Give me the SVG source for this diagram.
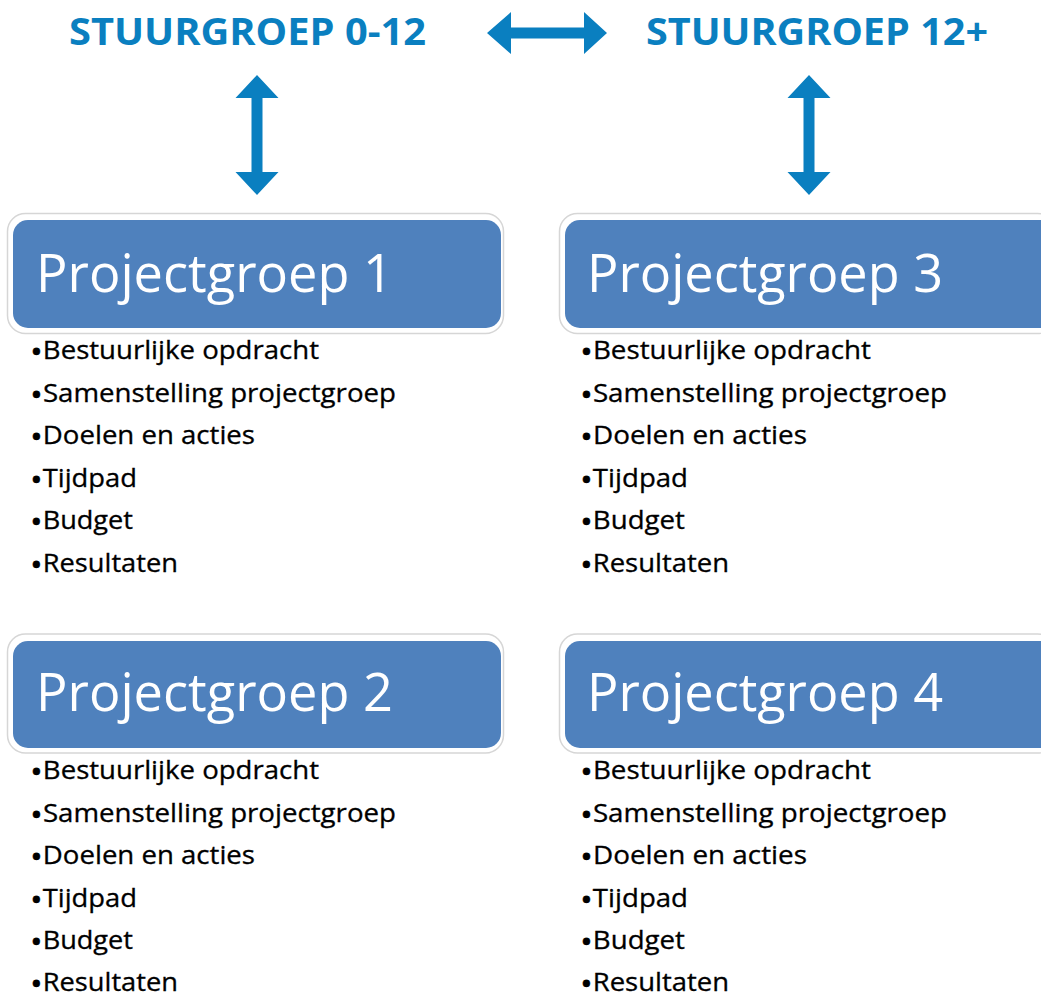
<svg xmlns="http://www.w3.org/2000/svg" width="1041" height="994" viewBox="0 0 1041 994">
<style>
.title{font-family:"Open Sans","Liberation Sans",sans-serif;font-weight:700;font-size:38px;fill:#0a7fc0}
.arrow{fill:#0a7fc0}
.outer{fill:#ffffff;stroke:#d6d6d6;stroke-width:1.5}
.inner{fill:#4f81bd}
.ptitle{font-family:"Open Sans","Liberation Sans",sans-serif;font-size:53px;fill:#ffffff}
.item{font-family:"Open Sans","Liberation Sans",sans-serif;font-size:25px;fill:#000000;stroke:#000000;stroke-width:0.3}
.b{font-size:31px}
</style>
<rect width="1041" height="994" fill="#ffffff"/>
<g id="stuurgroep-0-12">
<text class="title" x="69" y="45" textLength="357" lengthAdjust="spacingAndGlyphs">STUURGROEP 0-12</text>
</g>
<g id="stuurgroep-12plus">
<text class="title" x="646" y="45" textLength="342" lengthAdjust="spacingAndGlyphs">STUURGROEP 12+</text>
</g>
<g id="connectors">
<polygon class="arrow" points="487,33 511,12 511,27.5 584,27.5 584,12 607,33 584,54 584,38.5 511,38.5 511,54"/>
<polygon class="arrow" points="257,75 278.5,98 262.5,98 262.5,172 278.5,172 257,195 235.5,172 251.5,172 251.5,98 235.5,98"/>
<polygon class="arrow" points="809,75 830.5,98 814.5,98 814.5,172 830.5,172 809,195 787.5,172 803.5,172 803.5,98 787.5,98"/>
</g>
<g id="projectgroep-1">
<rect class="outer" x="7.5" y="213.5" width="496" height="120" rx="18"/>
<rect class="inner" x="13" y="220" width="488" height="108" rx="15"/>
<text class="ptitle" x="36" y="292" textLength="357" lengthAdjust="spacingAndGlyphs">Projectgroep 1</text>
<text class="item" x="30" y="359" textLength="289" lengthAdjust="spacingAndGlyphs"><tspan class="b" dy="4">•</tspan><tspan dy="-4">Bestuurlijke opdracht</tspan></text>
<text class="item" x="30" y="401.6" textLength="366" lengthAdjust="spacingAndGlyphs"><tspan class="b" dy="4">•</tspan><tspan dy="-4">Samenstelling projectgroep</tspan></text>
<text class="item" x="30" y="444.2" textLength="225" lengthAdjust="spacingAndGlyphs"><tspan class="b" dy="4">•</tspan><tspan dy="-4">Doelen en acties</tspan></text>
<text class="item" x="30" y="486.8" textLength="107" lengthAdjust="spacingAndGlyphs"><tspan class="b" dy="4">•</tspan><tspan dy="-4">Tijdpad</tspan></text>
<text class="item" x="30" y="529.4" textLength="103" lengthAdjust="spacingAndGlyphs"><tspan class="b" dy="4">•</tspan><tspan dy="-4">Budget</tspan></text>
<text class="item" x="30" y="572" textLength="148" lengthAdjust="spacingAndGlyphs"><tspan class="b" dy="4">•</tspan><tspan dy="-4">Resultaten</tspan></text>
</g>
<g id="projectgroep-2">
<rect class="outer" x="7.5" y="634" width="496" height="119" rx="18"/>
<rect class="inner" x="13" y="641" width="488" height="107" rx="15"/>
<text class="ptitle" x="36" y="711" textLength="357" lengthAdjust="spacingAndGlyphs">Projectgroep 2</text>
<text class="item" x="30" y="779" textLength="289" lengthAdjust="spacingAndGlyphs"><tspan class="b" dy="4">•</tspan><tspan dy="-4">Bestuurlijke opdracht</tspan></text>
<text class="item" x="30" y="821.6" textLength="366" lengthAdjust="spacingAndGlyphs"><tspan class="b" dy="4">•</tspan><tspan dy="-4">Samenstelling projectgroep</tspan></text>
<text class="item" x="30" y="864.2" textLength="225" lengthAdjust="spacingAndGlyphs"><tspan class="b" dy="4">•</tspan><tspan dy="-4">Doelen en acties</tspan></text>
<text class="item" x="30" y="906.8" textLength="107" lengthAdjust="spacingAndGlyphs"><tspan class="b" dy="4">•</tspan><tspan dy="-4">Tijdpad</tspan></text>
<text class="item" x="30" y="949.4" textLength="103" lengthAdjust="spacingAndGlyphs"><tspan class="b" dy="4">•</tspan><tspan dy="-4">Budget</tspan></text>
<text class="item" x="30" y="991" textLength="148" lengthAdjust="spacingAndGlyphs"><tspan class="b" dy="4">•</tspan><tspan dy="-4">Resultaten</tspan></text>
</g>
<g id="projectgroep-3">
<rect class="outer" x="559.5" y="213.5" width="496" height="120" rx="18"/>
<rect class="inner" x="565" y="220" width="500" height="108" rx="15"/>
<text class="ptitle" x="587" y="292" textLength="356" lengthAdjust="spacingAndGlyphs">Projectgroep 3</text>
<text class="item" x="580" y="359" textLength="291" lengthAdjust="spacingAndGlyphs"><tspan class="b" dy="4">•</tspan><tspan dy="-4">Bestuurlijke opdracht</tspan></text>
<text class="item" x="580" y="401.6" textLength="367" lengthAdjust="spacingAndGlyphs"><tspan class="b" dy="4">•</tspan><tspan dy="-4">Samenstelling projectgroep</tspan></text>
<text class="item" x="580" y="444.2" textLength="227" lengthAdjust="spacingAndGlyphs"><tspan class="b" dy="4">•</tspan><tspan dy="-4">Doelen en acties</tspan></text>
<text class="item" x="580" y="486.8" textLength="108" lengthAdjust="spacingAndGlyphs"><tspan class="b" dy="4">•</tspan><tspan dy="-4">Tijdpad</tspan></text>
<text class="item" x="580" y="529.4" textLength="105" lengthAdjust="spacingAndGlyphs"><tspan class="b" dy="4">•</tspan><tspan dy="-4">Budget</tspan></text>
<text class="item" x="580" y="572" textLength="149" lengthAdjust="spacingAndGlyphs"><tspan class="b" dy="4">•</tspan><tspan dy="-4">Resultaten</tspan></text>
</g>
<g id="projectgroep-4">
<rect class="outer" x="559.5" y="634" width="496" height="119" rx="18"/>
<rect class="inner" x="565" y="641" width="500" height="107" rx="15"/>
<text class="ptitle" x="587" y="711" textLength="356" lengthAdjust="spacingAndGlyphs">Projectgroep 4</text>
<text class="item" x="580" y="779" textLength="291" lengthAdjust="spacingAndGlyphs"><tspan class="b" dy="4">•</tspan><tspan dy="-4">Bestuurlijke opdracht</tspan></text>
<text class="item" x="580" y="821.6" textLength="367" lengthAdjust="spacingAndGlyphs"><tspan class="b" dy="4">•</tspan><tspan dy="-4">Samenstelling projectgroep</tspan></text>
<text class="item" x="580" y="864.2" textLength="227" lengthAdjust="spacingAndGlyphs"><tspan class="b" dy="4">•</tspan><tspan dy="-4">Doelen en acties</tspan></text>
<text class="item" x="580" y="906.8" textLength="108" lengthAdjust="spacingAndGlyphs"><tspan class="b" dy="4">•</tspan><tspan dy="-4">Tijdpad</tspan></text>
<text class="item" x="580" y="949.4" textLength="105" lengthAdjust="spacingAndGlyphs"><tspan class="b" dy="4">•</tspan><tspan dy="-4">Budget</tspan></text>
<text class="item" x="580" y="991" textLength="149" lengthAdjust="spacingAndGlyphs"><tspan class="b" dy="4">•</tspan><tspan dy="-4">Resultaten</tspan></text>
</g>
</svg>
